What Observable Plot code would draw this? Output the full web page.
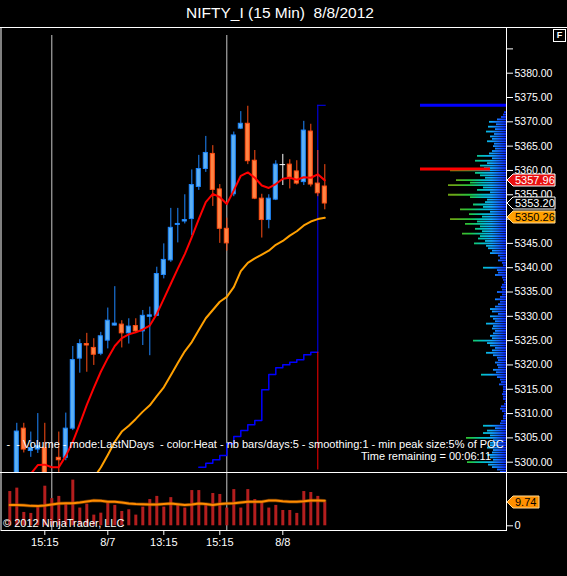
<!DOCTYPE html>
<html><head><meta charset="utf-8">
<script src="https://cdn.jsdelivr.net/npm/d3@7"></script>
<script src="https://cdn.jsdelivr.net/npm/@observablehq/plot@0.6"></script>
<style>
body{margin:0;background:#000;}
#chart{position:relative;width:567px;height:576px;background:#000;overflow:hidden;font-family:"Liberation Sans",Arial,sans-serif;color:#fff;}
#chart svg{position:absolute;left:0;}
.t{position:absolute;white-space:pre;color:#fff;line-height:1;}
.hl{position:absolute;background:#fff;}
</style></head><body><div id="chart"></div>
<script>
// ---------- DATA ----------
const title = "NIFTY_I (15 Min)  8/8/2012";
const opens  = [5294.0,5296.0,5306.9,5302.3,5302.6,5302.9,5295.5,5300.9,5300.9,5306.9,5321.3,5324.3,5323.5,5322.3,5325.0,5328.1,5328.3,5326.5,5328.0,5326.9,5329.9,5330.1,5338.5,5341.5,5348.8,5349.5,5350.0,5356.6,5360.3,5363.4,5356.1,5348.0,5355.1,5368.6,5369.6,5362.0,5354.2,5349.8,5354.0,5361.2,5361.2,5359.8,5357.6,5368.0,5357.3,5356.7];
const highs  = [5297.5,5308.0,5308.0,5306.2,5310.0,5308.0,5297.6,5306.2,5310.1,5323.8,5325.2,5326.5,5325.4,5326.7,5331.7,5336.1,5329.1,5329.5,5329.5,5331.2,5331.9,5340.1,5344.9,5352.2,5352.2,5355.0,5360.1,5363.1,5367.0,5365.1,5357.1,5350.2,5367.9,5372.1,5373.2,5364.1,5355.1,5355.0,5362.0,5363.3,5362.2,5362.0,5370.1,5369.5,5364.1,5361.2];
const lows   = [5292.0,5295.0,5301.9,5301.0,5301.8,5294.0,5292.5,5297.0,5300.3,5306.5,5318.3,5318.5,5319.9,5321.9,5323.3,5328.0,5323.5,5324.3,5326.5,5324.0,5321.9,5330.0,5337.7,5341.1,5345.1,5349.0,5346.6,5355.9,5359.6,5352.6,5345.0,5343.4,5354.6,5368.4,5361.2,5354.0,5346.1,5348.0,5353.8,5356.9,5356.2,5357.0,5356.9,5356.6,5354.6,5351.9];
const closes = [5296.5,5306.3,5302.6,5302.9,5303.3,5295.5,5296.0,5300.4,5306.9,5321.0,5324.3,5324.0,5322.1,5325.9,5329.1,5328.5,5326.5,5327.9,5326.9,5330.1,5330.2,5338.7,5341.6,5348.2,5349.0,5349.8,5357.0,5360.3,5363.6,5356.0,5348.0,5345.0,5367.2,5369.6,5361.9,5354.2,5349.8,5354.2,5361.2,5361.2,5358.5,5357.3,5368.2,5357.1,5355.3,5353.2];
const emaFast = [5295.5,5296.5,5297.2,5297.6,5299.4,5299.5,5298.97,5298.97,5301.3,5304.2,5307.9,5311.8,5315.3,5318.6,5321.4,5323.9,5325.5,5326.3,5326.7,5327.3,5328.1,5330.5,5333.6,5336.7,5339.8,5342.8,5346.3,5350.0,5353.5,5355.2,5354.5,5353.1,5355.9,5358.9,5359.6,5358.5,5356.9,5356.4,5357.2,5358.3,5358.5,5358.1,5358.6,5358.5,5359.2,5357.96];
const emaSlow = [5284.0,5285.1,5285.8,5286.5,5287.4,5288.0,5288.5,5289.1,5290.0,5291.5,5293.0,5294.8,5296.8,5298.9,5301.5,5304.2,5306.3,5307.5,5308.9,5310.4,5311.7,5313.6,5315.4,5317.9,5320.4,5322.8,5324.7,5327.2,5329.6,5331.3,5333.0,5334.0,5336.0,5339.3,5341.0,5341.9,5342.7,5343.5,5344.7,5345.5,5346.6,5347.5,5348.7,5349.5,5350.0,5350.26];
const stepStart = 27;
const stepValues = [5298.97,5299.8,5300.5,5301.38,5303.78,5305.29,5306.52,5307.69,5308.57,5314.89,5318.04,5319.41,5320.03,5320.57,5321.06,5322.09,5322.62,5322.62];
const dayHigh = 5373.4;
const markLow = 5298.4;
const volumes = [14.1,15.5,5.5,5.1,7.7,16.3,11.2,12.1,9.3,18.8,7.3,8.9,4.4,5.2,9.3,8.4,5.9,6.6,4.4,7.7,10.8,12.1,7.7,11.6,8.6,7.3,14.5,14.5,8.9,13.3,12.9,7.3,14.9,7.3,14.9,10.8,9.6,7.3,8.4,6.3,6.3,5.1,14.1,13.7,12.1,9.74];
const volAvg = [8.6,8.6,8.5,8.2,8.1,8.4,8.8,9.2,9.3,9.3,9.6,10.0,10.4,10.3,9.9,9.9,9.6,9.2,9.0,8.9,8.8,8.8,9.0,9.2,8.9,8.6,8.8,9.2,9.0,8.6,9.0,9.2,9.3,9.6,9.9,9.9,9.9,10.4,10.4,10.1,9.9,9.9,10.1,10.4,10.4,10.3];
const sessionEnds = [6, 31];
const timeTickBars = [5, 14, 22, 30, 39];
const timeTickLabels = ["15:15", "8/7", "13:15", "15:15", "8/8"];
const priceTicks = [5300,5305,5310,5315,5320,5325,5330,5335,5340,5345,5350,5355,5360,5365,5370,5375,5380,5385];
const hiddenTickLabels = [5350, 5385];
const profileTop = 5372.0, profileStep = 0.5;
const profileLen = [2,3,5,9,17,10,18,11,20,12,16,14,19,12,13,11,14,17,29,14,31,19,26,22,56,31,26,21,50,36,58,23,29,16,58,36,19,21,33,23,46,16,37,24,56,29,41,26,31,24,44,26,28,21,32,20,18,14,16,8,6,8,4,3,23,9,8,11,4,3,2,
  4,5,4,9,4,6,11,6,8,11,16,14,8,16,13,11,20,13,14,11,13,16,14,33,19,16,11,14,20,13,9,8,11,9,8,13,10,25,9,6,5,7,3,3,3,4,3,3,1,2,5,6,4,2,3,3,5,6,23,11,19,23,16,40,13,16,16,19,13,14,19,16,13,39,18,14,9,6];
const profilePOC = 5360.3;
const legendText = "-  - Volume - mode:LastNDays  - color:Heat - nb bars/days:5 - smoothing:1 - min peak size:5% of POC";
const timeText = "Time remaining = 00:06:11";
const copyText = "\u00a9 2012 NinjaTrader, LLC";

// ---------- BUILD ----------
const bars = d3.range(opens.length);
const candles = bars.map(i => ({i, open: opens[i], high: highs[i], low: lows[i], close: closes[i]}));
const stepData = stepValues.map((v, k) => ({i: stepStart + k, v}));
const profile = profileLen.map((len, k) => ({p: profileTop - k * profileStep, len}));
const root = document.getElementById("chart");
const FONT = "Liberation Sans, Arial, sans-serif";
const UP = "#5cb0f4", UPS = "#1e88ff", DN = "#ff8444", DNS = "#ff4e14";
const xOpt = {domain: [0, 45], range: [9.3, 324.3]};

// profile (under)
const prof = Plot.plot({
  width: 567, height: 472, marginTop: 27, marginBottom: 0, marginLeft: 0, marginRight: 61,
  style: {background: "transparent"},
  x: {domain: [0, 86], range: [506, 420], axis: null},
  y: {domain: [5300, 5380], range: [461.7, 72.7], axis: null},
  marks: [
    Plot.ruleY(profile, {y: "p", x1: 0, x2: "len", stroke: "url(#heat)", strokeWidth: 1.8, clip: true}),
    Plot.ruleY([dayHigh], {x1: 86, x2: 0, stroke: "#0000ff", strokeWidth: 3}),
    Plot.ruleY([profilePOC], {x1: 86, x2: 16, stroke: "#ff0000", strokeWidth: 3})
  ]
});
prof.style.top = "0px";
{
  const xs = prof.scale("x");
  const g = d3.select(prof).insert("defs", ":first-child").append("linearGradient")
    .attr("id", "heat").attr("gradientUnits", "userSpaceOnUse")
    .attr("x1", xs.apply(0)).attr("x2", xs.apply(86)).attr("y1", 0).attr("y2", 0);
  [[0, "#0a28ff"], [0.08, "#1464ff"], [0.17, "#10aaff"], [0.28, "#00c4c0"], [0.42, "#22c840"], [0.6, "#6aa818"], [1, "#7a8200"]]
    .forEach(([o, c]) => g.append("stop").attr("offset", o).attr("stop-color", c));
}
root.appendChild(prof);

// price panel
const price = Plot.plot({
  width: 567, height: 472, marginTop: 27, marginBottom: 0, marginLeft: 0, marginRight: 61,
  style: {background: "transparent", color: "#fff", fontSize: "10.5px", fontFamily: FONT},
  x: {...xOpt, axis: null},
  y: {domain: [5300, 5380], range: [461.7, 72.7], axis: "right", ticks: priceTicks,
      tickFormat: d => hiddenTickLabels.includes(d) ? "" : d.toFixed(2), tickSize: 6, tickPadding: 2, label: null},
  marks: [
    Plot.frame({stroke: "#fff", insetLeft: 0.5}),
    Plot.ruleX(sessionEnds, {stroke: "#c8c8c8", insetTop: 8}),
    Plot.line(stepData, {x: "i", y: "v", stroke: "#0000ff", curve: "step-after", clip: true}),
    Plot.ruleX([44], {y1: stepValues[stepValues.length - 1], y2: dayHigh, stroke: "#0000ff"}),
    Plot.ruleX([44], {y1: markLow, y2: stepValues[stepValues.length - 1], stroke: "#ff0000"}),
    Plot.ruleY([dayHigh], {x1: 44, x2: 45.2, stroke: "#0000ff"}),
    Plot.ruleX(candles, {filter: d => d.close > d.open, x: "i", y1: "low", y2: "high", stroke: UPS, clip: true}),
    Plot.ruleX(candles, {filter: d => d.close < d.open, x: "i", y1: "low", y2: "high", stroke: DNS, clip: true}),
    Plot.ruleX(candles, {filter: d => d.close === d.open, x: "i", y1: "low", y2: "high", stroke: "#fff", clip: true}),
    Plot.rect(candles, {filter: d => d.close > d.open, x1: d => d.i - 0.29, x2: d => d.i + 0.29, y1: "open", y2: "close", fill: UP, stroke: UPS, clip: true}),
    Plot.rect(candles, {filter: d => d.close < d.open, x1: d => d.i - 0.29, x2: d => d.i + 0.29, y1: "open", y2: "close", fill: DN, stroke: DNS, clip: true}),
    Plot.ruleY(candles, {filter: d => d.close === d.open, y: "close", x1: d => d.i - 0.4, x2: d => d.i + 0.4, stroke: "#fff"}),
    Plot.line(bars, {x: d => d, y: d => emaSlow[d], stroke: "#ffa000", strokeWidth: 2, clip: true}),
    Plot.line(bars, {x: d => d, y: d => emaFast[d], stroke: "#ff0000", strokeWidth: 2, clip: true})
  ]
});
price.style.top = "0px";
root.appendChild(price);

// volume panel
const vol = Plot.plot({
  width: 567, height: 104, marginTop: 0, marginBottom: 46, marginLeft: 0, marginRight: 61,
  style: {background: "transparent", color: "#fff", fontSize: "11px", fontFamily: FONT},
  x: {...xOpt, ticks: timeTickBars, tickFormat: d => timeTickLabels[timeTickBars.indexOf(d)], tickSize: 5, tickPadding: 3, label: null},
  y: {domain: [0, 20], range: [53.3, 4.7], axis: "right", ticks: [0], tickSize: 6, tickPadding: 2, label: null},
  marks: [
    Plot.frame({stroke: "#fff", insetLeft: 0.5}),
    Plot.ruleX(sessionEnds, {stroke: "#c8c8c8"}),
    Plot.ruleX(bars, {x: d => d, y1: 0, y2: d => volumes[d], stroke: "#b41e1e", strokeWidth: 3}),
    Plot.line(bars, {x: d => d, y: d => volAvg[d], stroke: "#a05000", strokeWidth: 3.5, strokeOpacity: 0.6}),
    Plot.line(bars, {x: d => d, y: d => volAvg[d], stroke: "#ff8c00", strokeWidth: 2})
  ]
});
vol.style.top = "472px";
root.appendChild(vol);

// full-width lines
function hline(top, left, width) { const d = document.createElement("div"); d.className = "hl"; d.style.cssText = `top:${top}px;left:${left}px;width:${width}px;height:1px`; root.appendChild(d); }
hline(27, 0, 567);
hline(471.5, 0, 567);

// texts
function text(str, opts) {
  const d = document.createElement("div"); d.className = "t"; d.textContent = str;
  const fs = opts.fs;
  d.style.fontSize = fs + "px";
  d.style.top = (opts.baseline - 0.8465 * fs) + "px";
  if (opts.right != null) d.style.right = (567 - opts.right) + "px";
  if (opts.left != null) d.style.left = opts.left + "px";
  if (opts.center != null) { d.style.left = (opts.center - 300) + "px"; d.style.width = "600px"; d.style.textAlign = "center"; }
  if (opts.color) d.style.color = opts.color;
  root.appendChild(d); return d;
}
text(title, {fs: 15.5, baseline: 18.3, center: 280});
text(legendText, {fs: 11, baseline: 448.3, right: 503.6});
text(timeText, {fs: 11, baseline: 460.3, right: 491});
text(copyText, {fs: 11, baseline: 527.7, left: 3});

// F box
{
  const f = document.createElement("div");
  f.style.cssText = "position:absolute;left:553px;top:29px;width:11px;height:11px;border:1px solid #fff;color:#fff;font:bold 9px 'Liberation Sans',Arial;text-align:center;line-height:11px;";
  f.textContent = "F"; root.appendChild(f);
}

// value markers on axes
function marker(y, label, fill, stroke, tcolor, w) {
  const h = 12;
  const s = d3.select(root).append("svg").attr("width", w + 2).attr("height", h + 2)
    .style("position", "absolute").style("left", "506px").style("top", (y - h / 2 - 1) + "px");
  s.append("polygon").attr("points", `1,${h / 2 + 1} 7,1 ${w},1 ${w},${h + 1} 7,${h + 1}`)
    .attr("fill", fill).attr("stroke", stroke).attr("stroke-width", 1);
  s.append("text").attr("x", 9).attr("y", h / 2 + 1).attr("dy", "0.36em").attr("fill", tcolor)
    .attr("font-family", FONT).attr("font-size", 11).text(label);
}
const ys = price.scale("y");
const vs = vol.scale("y");
marker(ys.apply(emaFast[45]), emaFast[45].toFixed(2), "#e81010", "#ffffff", "#ffffff", 49);
marker(ys.apply(closes[45]), closes[45].toFixed(2), "#000000", "#ffffff", "#ffffff", 49);
marker(ys.apply(emaSlow[45]), emaSlow[45].toFixed(2), "#ffa000", "#ffd890", "#000000", 49);
marker(472 + vs.apply(volumes[45]), volumes[45].toFixed(2), "#ff9000", "#ffd890", "#000000", 33);
</script></body></html>
